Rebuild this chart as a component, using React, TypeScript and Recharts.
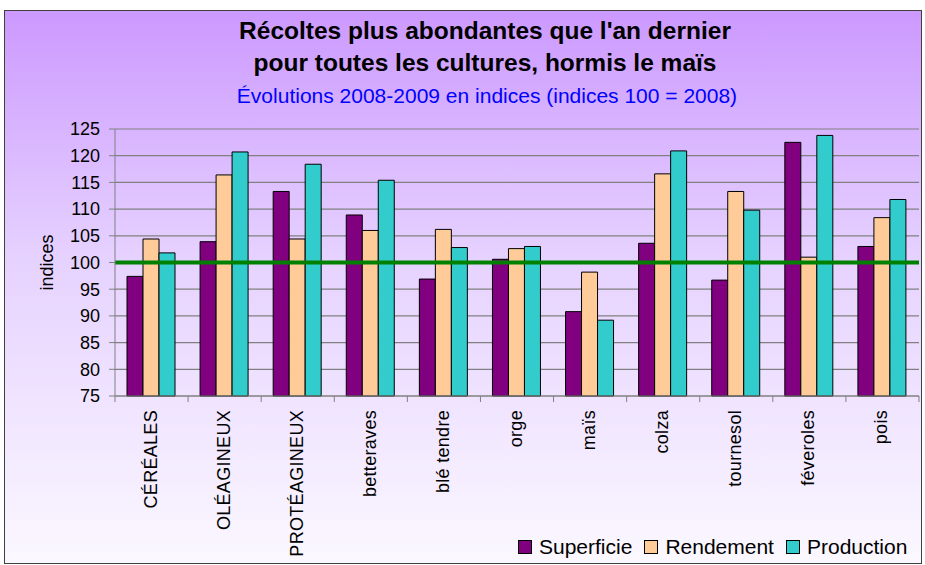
import React from 'react';
import { BarChart, Bar, XAxis, YAxis, CartesianGrid, ReferenceLine } from 'recharts';

const categories = ['CÉRÉALES', 'OLÉAGINEUX', 'PROTÉAGINEUX', 'betteraves', 'blé tendre', 'orge', 'maïs', 'colza', 'tournesol', 'féveroles', 'pois'];
const superficie = [97.4, 103.9, 113.3, 108.9, 96.9, 100.6, 90.8, 103.6, 96.7, 122.5, 103.0];
const rendement = [104.4, 116.4, 104.4, 106.0, 106.2, 102.6, 98.2, 116.6, 113.3, 101.0, 108.4];
const production = [101.8, 120.7, 118.4, 115.4, 102.8, 103.0, 89.2, 120.9, 109.8, 123.8, 111.8];
const yTicks = [75, 80, 85, 90, 95, 100, 105, 110, 115, 120, 125];

const SERIES = [
  { key: 'superficie', name: 'Superficie', color: '#800080' },
  { key: 'rendement', name: 'Rendement', color: '#FFCC99' },
  { key: 'production', name: 'Production', color: '#33CCCC' },
];

const data = categories.map((name, i) => ({
  name,
  superficie: superficie[i],
  rendement: rendement[i],
  production: production[i],
}));

const FONT = 'Arial, "Liberation Sans", sans-serif';

// rotated category label, with the tick marks drawn between categories
const CategoryTick = (props: any) => {
  const { x, y, payload, index } = props;
  const half = payload.offset || 0;
  const last = index === categories.length - 1;
  return (
    <g>
      <line x1={x - half} y1={y - 8} x2={x - half} y2={y - 2} stroke="#808080" />
      {last && <line x1={x + half} y1={y - 8} x2={x + half} y2={y - 2} stroke="#808080" />}
      <text
        x={0}
        y={0}
        transform={`translate(${x + 5}, ${y + 6}) rotate(-90)`}
        textAnchor="end"
        fontSize={18}
        letterSpacing={0.3}
        fontFamily={FONT}
        fill="#000"
      >
        {payload.value}
      </text>
    </g>
  );
};

export default function App() {
  return (
    <div style={{ position: 'absolute', left: 0, top: 0, width: 925, height: 565, background: '#fff' }}>
      <div
        style={{
          position: 'absolute',
          left: 4,
          top: 10,
          width: 916,
          height: 552,
          border: '1px solid #404040',
          background: 'linear-gradient(to bottom, #CC99FF 0%, #E6D2FF 45%, #FBF8FF 100%)',
        }}
      />
      <div
        style={{
          position: 'absolute',
          left: 0,
          width: 970,
          top: 15,
          textAlign: 'center',
          fontFamily: FONT,
          fontWeight: 'bold',
          fontSize: 24.5,
          lineHeight: '32px',
          color: '#000',
        }}
      >
        Récoltes plus abondantes que l'an dernier
        <br />
        pour toutes les cultures, hormis le maïs
      </div>
      <div
        style={{
          position: 'absolute',
          left: 0,
          width: 974,
          top: 84,
          textAlign: 'center',
          fontFamily: FONT,
          fontSize: 21,
          color: '#0000FF',
        }}
      >
        Évolutions 2008-2009 en indices (indices 100 = 2008)
      </div>

      <div style={{ position: 'absolute', left: 0, top: 0 }}>
        <BarChart
          width={925}
          height={565}
          data={data}
          margin={{ top: 129, right: 6, bottom: 39, left: 55 }}
          barCategoryGap={12}
          barGap={0}
        >
          <CartesianGrid vertical={false} stroke="#808080" strokeWidth={1.2} />
          <XAxis
            dataKey="name"
            height={130}
            stroke="#808080"
            tickLine={false}
            tick={<CategoryTick />}
            interval={0}
          />
          <YAxis
            domain={[75, 125]}
            ticks={yTicks}
            width={60}
            stroke="#808080"
            tickSize={6}
            tickMargin={9}
            tick={{ fill: '#000', fontSize: 18, fontFamily: FONT }}
            interval={0}
            label={{
              value: 'indices',
              angle: -90,
              position: 'insideLeft',
              offset: 0,
              dx: -8,
              style: { fontSize: 18, fontFamily: FONT, fill: '#000', textAnchor: 'middle' },
            }}
          />
          <YAxis yAxisId="right" orientation="right" domain={[75, 125]} width={0} tick={false} tickLine={false} stroke="#808080" />
          {SERIES.map((s) => (
            <Bar
              key={s.key}
              dataKey={s.key}
              name={s.name}
              fill={s.color}
              stroke="#000"
              strokeWidth={1}
              isAnimationActive={false}
            />
          ))}
          <ReferenceLine y={100} stroke="#008000" strokeWidth={4} />
        </BarChart>
      </div>

      <div
        style={{
          position: 'absolute',
          left: 518,
          top: 535,
          display: 'flex',
          alignItems: 'center',
          fontFamily: FONT,
          fontSize: 21,
          lineHeight: '24px',
          color: '#000',
        }}
      >
        {SERIES.map((s) => (
          <div key={s.key} style={{ display: 'flex', alignItems: 'center', marginRight: 12 }}>
            <span
              style={{
                display: 'inline-block',
                width: 12,
                height: 12,
                background: s.color,
                border: '1px solid #000',
                marginRight: 7,
              }}
            />
            {s.name}
          </div>
        ))}
      </div>
    </div>
  );
}
